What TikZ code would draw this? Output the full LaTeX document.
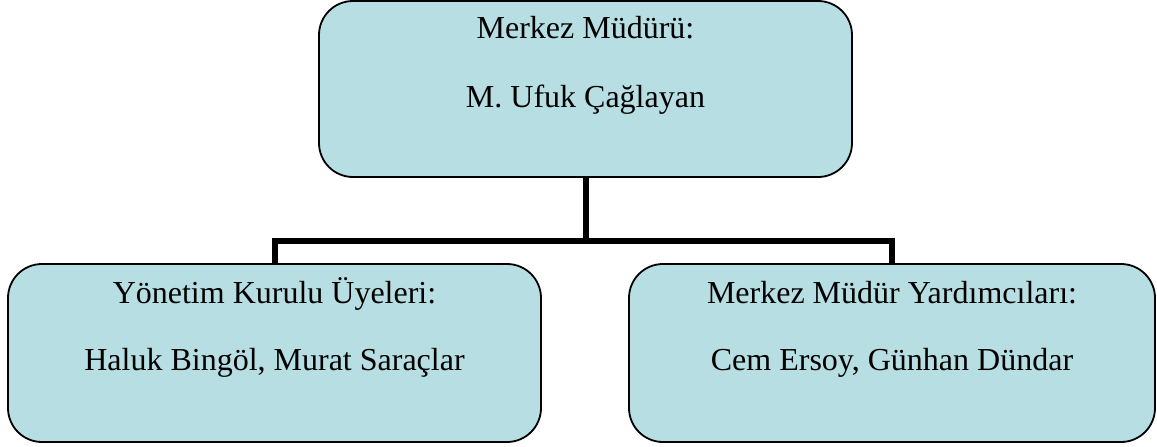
\documentclass[tikz,border=0pt]{standalone}
\usepackage{fontspec}
\setmainfont{Liberation Serif}
\definecolor{boxfill}{RGB}{183,223,227}
\begin{document}
\begin{tikzpicture}[x=1pt,y=-1pt,
  orgbox/.style={draw=black, line width=1.8pt, fill=boxfill, rounded corners=34pt, inner sep=0pt},
  lbl/.style={anchor=base, inner sep=0pt, font=\fontsize{32}{38}\selectfont},
  conn/.style={draw=black, line width=6pt}]
\useasboundingbox (0,0) rectangle (1157,447);
\node[orgbox, minimum width=533pt, minimum height=176pt] (top) at (585.5,89) {};
\node[orgbox, minimum width=533pt, minimum height=178pt] (left) at (274.5,353) {};
\node[orgbox, minimum width=526pt, minimum height=178pt] (right) at (892,353) {};
\node[lbl] (t1) at (585.5,38) {Merkez Müdürü:};
\node[lbl] (t2) at (585.5,107) {M. Ufuk Çağlayan};
\node[lbl] (l1) at (274.5,303) {Yönetim Kurulu Üyeleri:};
\node[lbl] (l2) at (274.5,370) {Haluk Bingöl, Murat Saraçlar};
\node[lbl] (r1) at (892,303) {Merkez Müdür Yardımcıları:};
\node[lbl] (r2) at (892,370) {Cem Ersoy, Günhan Dündar};
\coordinate (j) at (585.5,241);
\draw[conn] (top.south) -- (j);
\draw[conn] (left.north) |- (j) -| (right.north);
\end{tikzpicture}
\end{document}
